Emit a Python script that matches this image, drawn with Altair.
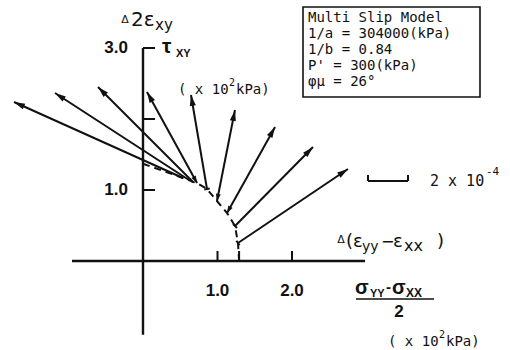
import math

import altair as alt
import pandas as pd

# ---------------------------------------------------------------------------
# Stress states along the loading path:
#   x = (σyy - σxx)/2 , y = τxy   (both in 10^2 kPa)
stress_x = [0.537, 0.617, 0.671, 0.725, 0.859, 0.993, 1.128, 1.235, 1.275]
stress_y = [1.169, 1.141, 1.113, 1.099, 1.014, 0.845, 0.676, 0.493, 0.254]

# Strain increments at each state (units of 10^-4)
d_eps_diff = [-8.45, -6.7, -4.75, -2.5, -0.8, 0.9, 2.4, 3.9, 5.5]   # Δ(εyy - εxx)
d_gamma = [3.8, 4.35, 4.75, 4.55, 4.7, 4.55, 4.3, 3.95, 3.7]        # Δ2εxy

# Small marker drawn at the start of each increment vector
tail_marks = ["none", "none", "none", "tri", "bar", "tri", "tri", "bar", "bar"]

# Ends of the stress path on the two axes
path_start_x, path_start_y = 0.0, 1.37
path_end_x, path_end_y = 1.29, 0.0

x_ticks = [1.0, 1.29, 2.0]
x_tick_labels = [1.0, 2.0]
y_ticks = [1.0, 2.0, 3.0]
y_tick_labels = [1.0, 3.0]

scale_bar_strain = 2.0  # length of the reference bar, 2 x 10^-4

model_lines = [
    "Multi Slip Model",
    "1/a = 304000(kPa)",
    "1/b = 0.84",
    "P' = 300(kPa)",
    "φμ = 26°",
]

# ---------------------------------------------------------------------------
# Layout
W, H = 510, 350
ORIGIN_PX, ORIGIN_PY = 143, 261
PX_PER_X, PX_PER_Y = 74.5, 71.0
PX_PER_STRAIN = 20.0  # pixels per 10^-4 of strain

kx = PX_PER_STRAIN / PX_PER_X
ky = PX_PER_STRAIN / PX_PER_Y

xs = alt.Scale(domain=[-ORIGIN_PX / PX_PER_X, (W - ORIGIN_PX) / PX_PER_X], nice=False, zero=False)
ys = alt.Scale(domain=[-(H - ORIGIN_PY) / PX_PER_Y, ORIGIN_PY / PX_PER_Y], nice=False, zero=False)


def X(f):
    return alt.X(f, type="quantitative", scale=xs, axis=None)


def Y(f):
    return alt.Y(f, type="quantitative", scale=ys, axis=None)


BLACK = "#111111"
SANS = "Liberation Sans"
DSANS = "DejaVu Sans"
MONO = "DejaVu Sans Mono"

# ---------------------------------------------------------------------------
# Axes drawn through the origin
axes_df = pd.DataFrame({
    "x": [-0.953, 0.0], "x2": [2.98, 0.0],
    "y": [0.0, -1.04], "y2": [0.0, 3.0],
})
axes = alt.Chart(axes_df).mark_rule(color=BLACK, strokeWidth=2.4).encode(
    x=X("x"), x2="x2:Q", y=Y("y"), y2="y2:Q"
)

ytick_df = pd.DataFrame({"y": y_ticks, "x": 0.0, "x2": 12 / PX_PER_X})
yticks = alt.Chart(ytick_df).mark_rule(color=BLACK, strokeWidth=2).encode(
    x=X("x"), x2="x2:Q", y=Y("y")
)
xtick_df = pd.DataFrame({"x": x_ticks, "y": 0.0, "y2": 10 / PX_PER_Y})
xticks = alt.Chart(xtick_df).mark_rule(color=BLACK, strokeWidth=2).encode(
    x=X("x"), y=Y("y"), y2="y2:Q"
)

ylab = alt.Chart(pd.DataFrame({"y": y_tick_labels})).transform_calculate(
    t="format(datum.y, '.1f')"
).mark_text(font=SANS, fontWeight="bold", fontSize=17, align="right",
            baseline="middle", color=BLACK).encode(
    x=alt.value(128), y=Y("y"), text="t:N"
)
xlab = alt.Chart(pd.DataFrame({"x": x_tick_labels})).transform_calculate(
    t="format(datum.x, '.1f')"
).mark_text(font=SANS, fontWeight="bold", fontSize=17, align="center",
            baseline="middle", color=BLACK).encode(
    x=X("x"), y=alt.value(291), text="t:N"
)

# ---------------------------------------------------------------------------
# Dashed stress path
path_df = pd.DataFrame({
    "x": [path_start_x] + stress_x + [path_end_x],
    "y": [path_start_y] + stress_y + [path_end_y],
})
path_df["order"] = range(len(path_df))
path = alt.Chart(path_df).mark_line(color=BLACK, strokeWidth=2, strokeDash=[7, 5]).encode(
    x=X("x"), y=Y("y"), order="order:Q"
)

# Strain increment vectors
vec = pd.DataFrame({
    "x": stress_x, "y": stress_y,
    "de": d_eps_diff, "dg": d_gamma, "mark": tail_marks,
})
vec["x2"] = vec["x"] + vec["de"] * kx
vec["y2"] = vec["y"] + vec["dg"] * ky
vec["angle"] = [(math.degrees(math.atan2(a, b)) + 360) % 360 for a, b in zip(vec["de"], vec["dg"])]
vec["back"] = (vec["angle"] + 180) % 360

shafts = alt.Chart(vec).mark_rule(color=BLACK, strokeWidth=2).encode(
    x=X("x"), y=Y("y"), x2="x2:Q", y2="y2:Q"
)
heads = alt.Chart(vec).mark_point(
    shape="M0,0L0.28,1L-0.28,1Z", filled=True, color=BLACK, opacity=1, size=480
).encode(x=X("x2"), y=Y("y2"), angle=alt.Angle("angle:Q", scale=None))

tail_tri = alt.Chart(vec).transform_filter("datum.mark == 'tri'").mark_point(
    shape="M0,0L0.35,1L-0.35,1Z", filled=True, color=BLACK, opacity=1, size=200
).encode(x=X("x"), y=Y("y"), angle=alt.Angle("back:Q", scale=None))

tail_bar = alt.Chart(vec).transform_filter("datum.mark == 'bar'").mark_point(
    shape="M-0.5,0L0.5,0", filled=False, color=BLACK, opacity=1, size=120, strokeWidth=2
).encode(x=X("x"), y=Y("y"), angle=alt.Angle("angle:Q", scale=None))

# ---------------------------------------------------------------------------
# Strain reference bar
bar_x0 = (368 - ORIGIN_PX) / PX_PER_X
bar_y0 = (ORIGIN_PY - 181) / PX_PER_Y
cap = 6 / PX_PER_Y
bar_df = pd.DataFrame({
    "x": [bar_x0, bar_x0, bar_x0 + scale_bar_strain * kx],
    "x2": [bar_x0 + scale_bar_strain * kx, bar_x0, bar_x0 + scale_bar_strain * kx],
    "y": [bar_y0, bar_y0, bar_y0],
    "y2": [bar_y0, bar_y0 + cap, bar_y0 + cap],
})
sbar = alt.Chart(bar_df).mark_rule(color=BLACK, strokeWidth=2).encode(
    x=X("x"), x2="x2:Q", y=Y("y"), y2="y2:Q"
)

# ---------------------------------------------------------------------------
one = pd.DataFrame({"k": [0]})


def label(text, px, py, size, font=DSANS, weight="normal", align="left",
          baseline="alphabetic"):
    return alt.Chart(one).mark_text(
        text=text, font=font, fontSize=size, fontWeight=weight, align=align,
        baseline=baseline, color=BLACK
    ).encode(x=alt.value(px), y=alt.value(py))


texts = [
    # Δ2εxy
    label("Δ", 125, 20, 11, align="center", baseline="middle"),
    label("2ε", 131, 26, 20),
    label("xy", 155, 30, 15),
    # τxy
    label("τ", 162, 53, 21, font=SANS, weight="bold"),
    label("XY", 176, 57, 11, font=SANS, weight="bold"),
    # (x 10^2 kPa) for τ
    label("( x 10", 178, 94, 14, font=MONO),
    label("2", 229, 86, 10, font=MONO),
    label("kPa)", 236, 94, 14, font=MONO),
    # Δ(εyy - εxx)
    label("Δ", 341, 240, 11, align="center", baseline="middle"),
    label("(ε", 346, 247, 18),
    label("yy", 362, 251, 14),
    label("−", 381, 247, 16),
    label("ε", 393, 247, 18),
    label("xx", 404, 251, 16),
    label(")", 437, 247, 18),
    # (σyy - σxx)/2
    label("σ", 355, 294, 20, font=SANS, weight="bold"),
    label("YY", 370, 297, 11, font=SANS, weight="bold"),
    label("-", 386, 292, 15, font=SANS, weight="bold"),
    label("σ", 392, 294, 20, font=SANS, weight="bold"),
    label("XX", 406, 297, 12, font=SANS, weight="bold"),
    label("2", 399, 312, 17, font=SANS, weight="bold", align="center", baseline="middle"),
    # (x 10^2 kPa) for the stress axis
    label("( x 10", 388, 346, 14, font=MONO),
    label("2", 439, 338, 10, font=MONO),
    label("kPa)", 446, 346, 14, font=MONO),
    # strain bar label
    label("2 x 10", 430, 186, 15, font=MONO),
    label("-4", 486, 175, 11, font=MONO),
]

frac = alt.Chart(one).mark_rule(color=BLACK, strokeWidth=1.5).encode(
    x=alt.value(356), x2=alt.value(434), y=alt.value(299)
)

# Model parameter box
box = alt.Chart(one).mark_rect(fillOpacity=0, stroke=BLACK, strokeWidth=1.6).encode(
    x=alt.value(303), x2=alt.value(480), y=alt.value(7), y2=alt.value(97)
)
box_df = pd.DataFrame({"t": model_lines})
box_df["row"] = range(len(box_df))
box_text = alt.Chart(box_df).transform_calculate(
    py="18 + datum.row * 16"
).mark_text(font=MONO, fontSize=14, align="left", baseline="middle", color=BLACK).encode(
    x=alt.value(308), y=alt.Y("py:Q", scale=None), text="t:N"
)

chart = alt.layer(
    axes, yticks, xticks, ylab, xlab, path, shafts, heads, tail_tri, tail_bar,
    sbar, frac, box, box_text, *texts
).properties(
    width=W, height=H, padding=0, autosize="none", background="white"
).configure_view(stroke=None)

chart.save("out.html", embed_options={"renderer": "svg", "actions": False})
